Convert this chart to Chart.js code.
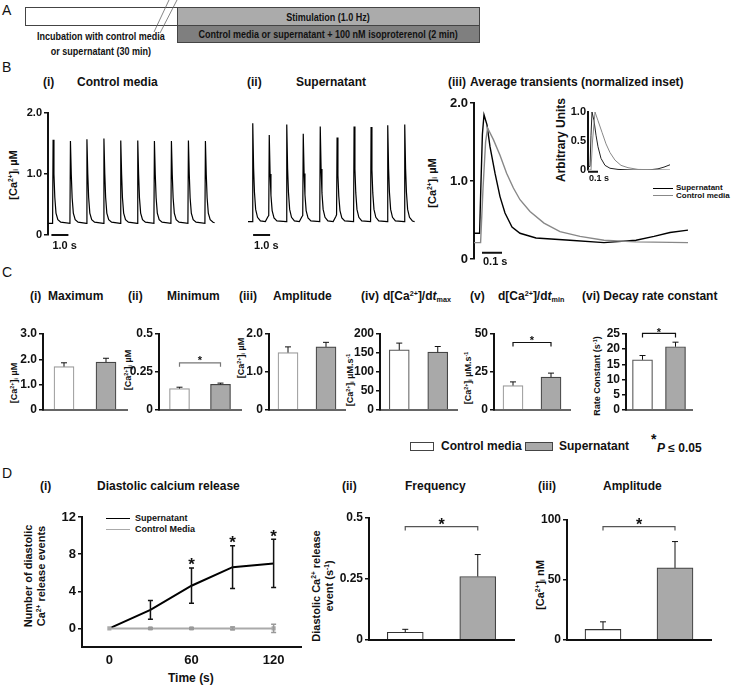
<!DOCTYPE html>
<html>
<head>
<meta charset="utf-8">
<title>Calcium handling figure</title>
<script src="https://cdn.jsdelivr.net/npm/chart.js@4.4.1/dist/chart.umd.min.js"></script>
<style>
  body { margin: 0; background: #fff; }
  #fig { position: relative; width: 734px; height: 686px; overflow: hidden;
         font-family: 'Liberation Sans', Arial, sans-serif; color: #111; }
  #fig canvas { position: absolute; }
  .t { position: absolute; white-space: nowrap; font-weight: bold; font-size: 12px;
       line-height: 1; transform: translateY(-50%); }
  .v { position: absolute; white-space: nowrap; font-weight: bold; text-align: center;
       line-height: 1.15; transform: translate(-50%, -50%) rotate(-90deg); }
  .letter { font-weight: normal; font-size: 14px; }
  sup { font-size: 0.6em; vertical-align: 0.6em; line-height: 0; }
  sub { font-size: 0.6em; vertical-align: -0.25em; line-height: 0; }
  .box { position: absolute; box-sizing: border-box; border: 1px solid #444;
         display: flex; align-items: center; justify-content: center;
         font-size: 11px; font-weight: bold; white-space: nowrap; }
  .cond { display: inline-block; transform: scaleX(0.82); white-space: nowrap; }
  .key { position: absolute; height: 0; }
</style>
</head>
<body>
<div id="fig">
  <!-- panel A: protocol schematic -->
  <div class="t letter" style="left:2px;top:10px">A</div>
  <div class="box" style="left:25px;top:7px;width:153px;height:19px;background:#fff"></div>
  <div class="box" style="left:177px;top:7px;width:303px;height:19px;background:#ababab"><span class="cond">Stimulation (1.0 Hz)</span></div>
  <div class="box" style="left:177px;top:25px;width:303px;height:18px;background:#7f7f7f"><span class="cond">Control media or supernatant + 100 nM isoproterenol (2 min)</span></div>
  <div style="position:absolute;left:-20px;top:29px;width:242px;text-align:center;font-size:11px;font-weight:bold;line-height:14.5px;white-space:nowrap">
    <span class="cond">Incubation with control media<br>or supernatant (30 min)</span>
  </div>
  <svg style="position:absolute;left:0;top:0" width="200" height="40">
    <line x1="154" y1="32" x2="169" y2="0" stroke="#666" stroke-width="0.8"/>
    <line x1="160" y1="33" x2="177" y2="0" stroke="#666" stroke-width="0.8"/>
  </svg>

  <!-- panel B labels -->
  <div class="t letter" style="left:2px;top:67px">B</div>
  <div class="t" style="left:43px;top:82px">(i)</div>
  <div class="t" style="left:77px;top:82px">Control media</div>
  <div class="t" style="left:247px;top:82px">(ii)</div>
  <div class="t" style="left:296px;top:82px">Supernatant</div>
  <div class="t" style="left:448px;top:82px">(iii)</div>
  <div class="t" style="left:470px;top:82px">Average transients (normalized inset)</div>
  <div class="v" style="left:13px;top:175px;font-size:11px">[Ca<sup>2+</sup>]<sub>i</sub> µM</div>
  <div class="v" style="left:432px;top:183px;font-size:11px">[Ca<sup>2+</sup>]<sub>i</sub> µM</div>
  <div class="v" style="left:562px;top:140px;font-size:12px">Arbitrary Units</div>
  <div class="key" style="left:653px;top:188px;width:20px;border-top:1.5px solid #000"></div>
  <div class="key" style="left:653px;top:195px;width:20px;border-top:1.5px solid #888"></div>
  <div class="t" style="left:676px;top:188px;font-size:8px">Supernatant</div>
  <div class="t" style="left:676px;top:196px;font-size:8px">Control media</div>

  <!-- panel C labels -->
  <div class="t letter" style="left:2px;top:272px">C</div>
  <div class="t" style="left:30px;top:296px">(i)</div>
  <div class="t" style="left:48px;top:296px">Maximum</div>
  <div class="t" style="left:128px;top:296px">(ii)</div>
  <div class="t" style="left:167px;top:296px">Minimum</div>
  <div class="t" style="left:239px;top:296px">(iii)</div>
  <div class="t" style="left:273px;top:296px">Amplitude</div>
  <div class="t" style="left:361px;top:296px">(iv)</div>
  <div class="t" style="left:383px;top:296px">d[Ca<sup>2+</sup>]/d<i>t</i><sub>max</sub></div>
  <div class="t" style="left:470px;top:296px">(v)</div>
  <div class="t" style="left:498px;top:296px">d[Ca<sup>2+</sup>]/d<i>t</i><sub>min</sub></div>
  <div class="t" style="left:582px;top:296px">(vi) Decay rate constant</div>
  <div class="v" style="left:14px;top:383px;font-size:9px">[Ca<sup>2+</sup>]<sub>i</sub> µM</div>
  <div class="v" style="left:128px;top:370px;font-size:9px">[Ca<sup>2+</sup>]<sub>i</sub> µM</div>
  <div class="v" style="left:241px;top:358px;font-size:9px">[Ca<sup>2+</sup>]<sub>i</sub> µM</div>
  <div class="v" style="left:350px;top:380px;font-size:9px">[Ca<sup>2+</sup>]<sub>i</sub> µM.s<sup>-1</sup></div>
  <div class="v" style="left:468px;top:378px;font-size:9px">[Ca<sup>2+</sup>]<sub>i</sub> µM.s<sup>-1</sup></div>
  <div class="v" style="left:597px;top:376px;font-size:9px">Rate Constant (s<sup>-1</sup>)</div>
  <div class="box" style="left:410px;top:442px;width:24px;height:9px;background:#fff"></div>
  <div class="t" style="left:441px;top:446px">Control media</div>
  <div class="box" style="left:525px;top:442px;width:28px;height:9px;background:#a9a9a9"></div>
  <div class="t" style="left:559px;top:446px">Supernatant</div>
  <div class="t" style="left:651px;top:439px;font-size:14px">*</div>
  <div class="t" style="left:657px;top:448px"><i>P</i> ≤ 0.05</div>

  <!-- panel D labels -->
  <div class="t letter" style="left:2px;top:473px">D</div>
  <div class="t" style="left:40px;top:486px">(i)</div>
  <div class="t" style="left:97px;top:486px">Diastolic calcium release</div>
  <div class="t" style="left:342px;top:486px">(ii)</div>
  <div class="t" style="left:405px;top:486px">Frequency</div>
  <div class="t" style="left:538px;top:486px">(iii)</div>
  <div class="t" style="left:603px;top:486px">Amplitude</div>
  <div class="v" style="left:35px;top:576px;font-size:11px">Number of diastolic<br>Ca<sup>2+</sup> release events</div>
  <div class="v" style="left:323px;top:586px;font-size:11px">Diastolic Ca<sup>2+</sup> release<br>event (s<sup>-1</sup>)</div>
  <div class="v" style="left:540px;top:585px;font-size:11px">[Ca<sup>2+</sup>]<sub>i</sub> nM</div>
  <div class="t" style="left:168px;top:678px;font-size:12px">Time (s)</div>
  <div class="key" style="left:106px;top:518px;width:24px;border-top:1.5px solid #000"></div>
  <div class="key" style="left:106px;top:529px;width:24px;border-top:1.5px solid #aaa"></div>
  <div class="t" style="left:135px;top:518px;font-size:9px">Supernatant</div>
  <div class="t" style="left:135px;top:529px;font-size:9px">Control Media</div>

  <canvas id="bCtrl"></canvas>
  <canvas id="bSup"></canvas>
  <canvas id="bAvg"></canvas>
  <canvas id="bInset"></canvas>
  <canvas id="cMax"></canvas>
  <canvas id="cMin"></canvas>
  <canvas id="cAmp"></canvas>
  <canvas id="cUp"></canvas>
  <canvas id="cDown"></canvas>
  <canvas id="cTau"></canvas>
  <canvas id="dEvents"></canvas>
  <canvas id="dFreq"></canvas>
  <canvas id="dAmp"></canvas>
</div>

<script>
// ---------- panel B(i): control media trace, time (s) / [Ca2+] (uM) ----------
const ctrlTraceT = [
  0, 0.27, 0.30, 0.35, 0.40, 0.47, 0.58, 0.75,
  1.29, 1.32, 1.37, 1.42, 1.49, 1.60, 1.77,
  2.26, 2.29, 2.34, 2.39, 2.46, 2.57, 2.74,
  3.26, 3.29, 3.34, 3.39, 3.46, 3.57, 3.74,
  4.25, 4.28, 4.33, 4.38, 4.45, 4.56, 4.73,
  5.25, 5.28, 5.33, 5.38, 5.45, 5.56, 5.73,
  6.23, 6.26, 6.31, 6.36, 6.43, 6.54, 6.71,
  7.23, 7.26, 7.31, 7.36, 7.43, 7.54, 7.71,
  8.23, 8.26, 8.31, 8.36, 8.43, 8.54, 8.71,
  9.23, 9.26, 9.31, 9.36, 9.43, 9.54, 9.71, 9.80
];
const ctrlTraceCa = [
  0.19, 0.19, 1.56, 1.00, 0.62, 0.36, 0.25, 0.21,
  0.19, 1.54, 0.99, 0.61, 0.36, 0.25, 0.21,
  0.19, 1.57, 1.01, 0.62, 0.36, 0.25, 0.21,
  0.19, 1.58, 1.01, 0.62, 0.36, 0.25, 0.21,
  0.19, 1.55, 1.00, 0.61, 0.36, 0.25, 0.21,
  0.19, 1.55, 1.00, 0.61, 0.36, 0.25, 0.21,
  0.19, 1.54, 0.99, 0.61, 0.36, 0.25, 0.21,
  0.19, 1.54, 0.99, 0.61, 0.36, 0.25, 0.21,
  0.19, 1.55, 1.00, 0.61, 0.36, 0.25, 0.21,
  0.19, 1.54, 0.99, 0.61, 0.36, 0.25, 0.21, 0.20
];

// ---------- panel B(ii): supernatant trace ----------
const supTraceT = [
  0, 0.25, 0.28, 0.33, 0.38, 0.45, 0.56, 0.73,
  1.02, 1.17, 1.22, 1.25, 1.30, 1.35, 1.42, 1.53, 1.70,
  2.25, 2.28, 2.33, 2.38, 2.45, 2.56, 2.73,
  3.02, 3.17, 3.22, 3.25, 3.30, 3.35, 3.42, 3.53, 3.70,
  4.22, 4.25, 4.30, 4.35, 4.42, 4.53, 4.70,
  5.01, 5.16, 5.21, 5.24, 5.29, 5.34, 5.41, 5.52, 5.69,
  6.21, 6.24, 6.29, 6.34, 6.41, 6.52, 6.69,
  7.21, 7.24, 7.29, 7.34, 7.41, 7.52, 7.69,
  8.19, 8.22, 8.27, 8.32, 8.39, 8.50, 8.67,
  9.19, 9.22, 9.27, 9.32, 9.39, 9.50, 9.67, 9.80
];
const supTraceCa = [
  0.22, 0.22, 1.83, 1.10, 0.70, 0.42, 0.29, 0.23,
  0.22, 0.30, 0.32, 1.64, 1.00, 0.65, 0.40, 0.28, 0.23,
  0.22, 1.81, 1.09, 0.70, 0.42, 0.29, 0.23,
  0.22, 0.30, 0.32, 1.66, 1.01, 0.66, 0.40, 0.28, 0.23,
  0.22, 1.78, 1.08, 0.69, 0.42, 0.29, 0.23,
  0.22, 0.30, 0.33, 1.60, 0.98, 0.64, 0.40, 0.28, 0.23,
  0.22, 1.78, 1.08, 0.69, 0.42, 0.29, 0.23,
  0.22, 1.77, 1.07, 0.69, 0.42, 0.29, 0.23,
  0.22, 1.80, 1.09, 0.70, 0.42, 0.29, 0.23,
  0.22, 1.81, 1.09, 0.70, 0.42, 0.29, 0.23, 0.22
];

// ---------- panel B(iii): averaged transients ----------
const avgSupT  = [0, 0.028, 0.034, 0.042, 0.05, 0.065, 0.08, 0.105, 0.13, 0.155, 0.19, 0.23, 0.31, 0.48, 0.65, 0.81, 0.90, 0.98, 1.07];
const avgSupCa = [0.33, 0.33, 0.9, 1.6, 1.85, 1.72, 1.44, 1.10, 0.80, 0.59, 0.41, 0.33, 0.27, 0.24, 0.21, 0.24, 0.29, 0.34, 0.37];
const avgCtrlT  = [0, 0.033, 0.045, 0.058, 0.068, 0.097, 0.13, 0.163, 0.197, 0.23, 0.28, 0.35, 0.43, 0.53, 0.65, 0.81, 1.07];
const avgCtrlCa = [0.21, 0.21, 0.9, 1.5, 1.68, 1.53, 1.33, 1.10, 0.91, 0.76, 0.61, 0.46, 0.35, 0.29, 0.24, 0.22, 0.21];
// normalized inset (arbitrary units)
const insetSupT = [0, 0.02, 0.03, 0.04, 0.06, 0.08, 0.10, 0.13, 0.17, 0.22, 0.30, 0.45, 0.60, 0.70, 0.76, 0.82];
const insetSupY = [0.06, 0.06, 0.6, 1.0, 0.85, 0.6, 0.4, 0.2, 0.08, 0.03, 0.01, 0, 0, 0.02, 0.05, 0.09];
const insetCtrlT = [0, 0.03, 0.045, 0.07, 0.10, 0.14, 0.18, 0.22, 0.27, 0.33, 0.40, 0.50, 0.82];
const insetCtrlY = [0, 0, 0.5, 1.0, 0.85, 0.65, 0.45, 0.3, 0.17, 0.08, 0.04, 0.01, 0];

// ---------- panel C: mean and SEM per group ----------
const groupLabels = ['Control media', 'Supernatant'];
const maxMean = [1.71, 1.89],  maxSem = [0.15, 0.15];
const minMean = [0.14, 0.168], minSem = [0.009, 0.008];
const ampMean = [1.51, 1.66],  ampSem = [0.15, 0.12];
const upMean = [158, 152],     upSem = [18, 15];
const downMean = [16, 21.6],   downSem = [2.4, 2.6];
const tauMean = [16.5, 20.8],  tauSem = [1.4, 1.5];

// ---------- panel D ----------
const timePoints = [0, 30, 60, 90, 120];
const supEvents = [0, 2.0, 4.6, 6.6, 7.0];
const supEventsErr = [0, 1.0, 1.9, 2.3, 2.6];
const ctrlEvents = [0, 0, 0, 0, 0];
const ctrlEventsErr = [0, 0.08, 0.08, 0.15, 0.45];
const starTimes = [60, 90, 120];
const starLevels = [7.3, 9.7, 10.4];
const freqMean = [0.031, 0.26], freqSem = [0.012, 0.09];
const relAmpMean = [8.7, 60],   relAmpSem = [6.3, 22];

// ---------- tick values and labels ----------
const traceTicks = [0, 1, 2],           traceTickLabels = ['0', '1.0', '2.0'];
const insetTicks = [0, 0.5, 1],         insetTickLabels = ['0', '0.5', '1.0'];
const maxTicks = [0, 1, 2, 3],          maxTickLabels = ['0', '1.0', '2.0', '3.0'];
const minTicks = [0, 0.25, 0.5],        minTickLabels = ['0', '0.25', '0.5'];
const ampTicks = [0, 1, 2],             ampTickLabels = ['0', '1.0', '2.0'];
const upTicks = [0, 50, 100, 150, 200], upTickLabels = ['0', '50', '100', '150', '200'];
const downTicks = [0, 25, 50],          downTickLabels = ['0', '25', '50'];
const tauTicks = [0, 5, 10, 15, 20, 25], tauTickLabels = ['0', '5', '10', '15', '20', '25'];
const eventTicks = [0, 4, 8, 12],       eventTickLabels = ['0', '4', '8', '12'];
const timeTicks = [0, 60, 120],         timeTickLabels = ['0', '60', '120'];
const freqTicks = [0, 0.25, 0.5],       freqTickLabels = ['0', '0.25', '0.5'];
const relAmpTicks = [0, 50, 100],       relAmpTickLabels = ['0', '50', '100'];

const FONT = "'Liberation Sans', Arial, sans-serif";
const INK = '#111';
const GREY_BAR = '#a9a9a9';
const PAD_T = 12, PAD_R = 4;

Chart.defaults.font.family = FONT;
Chart.defaults.animation = false;
Chart.defaults.plugins.legend.display = false;
Chart.defaults.plugins.tooltip.enabled = false;

// size and place a canvas so that its plot area lands on the given box
function frame(id, g) {
    const c = document.getElementById(id);
    c.width = g.yW + (g.x1 - g.x0) + PAD_R;
    c.height = PAD_T + (g.yBot - g.yTop) + g.xH;
    c.style.left = (g.x0 - g.yW) + 'px';
    c.style.top = (g.yTop - PAD_T) + 'px';
    return c;
}

function pairs(xs, ys) {
    return xs.map((x, i) => ({ x: x, y: ys[i] }));
}

function valueAxis(g, min, max, vals, labels, size, show, tick) {
    return {
        display: show !== false,
        min: min, max: max,
        border: { display: true, color: INK, width: 2 },
        grid: { drawOnChartArea: false, drawTicks: true, tickLength: tick || 4, color: INK, lineWidth: 1.5 },
        ticks: { autoSkip: false, padding: tick ? 1 : 2, color: INK, font: { size: size || 12, weight: 'bold' },
                 callback: (v, i) => labels[i] },
        afterBuildTicks: s => { s.ticks = vals.map(v => ({ value: v })); },
        afterFit: s => { s.width = g.yW; }
    };
}

// error bars, significance brackets, stars and time scale bars
function marks(spec) {
    return {
        id: 'marks',
        afterDatasetsDraw(chart) {
            const ctx = chart.ctx, xs = chart.scales.x, ys = chart.scales.y;
            ctx.save();
            chart.data.datasets.forEach((ds, di) => {
                if (!ds.errorBars) return;
                const pts = chart.getDatasetMeta(di).data;
                ctx.strokeStyle = ds.errorColor || INK;
                ctx.lineWidth = ds.errorWidth || 1;
                pts.forEach((el, i) => {
                    const err = ds.errorBars[i];
                    if (!err) return;
                    const v = typeof ds.data[i] === 'number' ? ds.data[i] : ds.data[i].y;
                    const cap = ds.errorCap || 3;
                    const top = ys.getPixelForValue(v + err);
                    const bot = ds.errorBoth ? ys.getPixelForValue(v - err) : el.y;
                    ctx.beginPath();
                    ctx.moveTo(el.x, bot); ctx.lineTo(el.x, top);
                    ctx.moveTo(el.x - cap, top); ctx.lineTo(el.x + cap, top);
                    if (ds.errorBoth) { ctx.moveTo(el.x - cap, bot); ctx.lineTo(el.x + cap, bot); }
                    ctx.stroke();
                });
            });
            if (spec.bracket) {
                const b = spec.bracket, pts = chart.getDatasetMeta(0).data;
                const y = ys.getPixelForValue(b.level);
                const xa = pts[0].x, xb = pts[1].x;
                ctx.strokeStyle = b.color || INK;
                ctx.lineWidth = 1.2;
                ctx.beginPath();
                ctx.moveTo(xa, y + b.drop); ctx.lineTo(xa, y); ctx.lineTo(xb, y); ctx.lineTo(xb, y + b.drop);
                ctx.stroke();
                ctx.fillStyle = INK;
                ctx.font = 'bold ' + b.size + 'px ' + FONT;
                ctx.textAlign = 'center';
                ctx.textBaseline = 'alphabetic';
                ctx.fillText('*', (xa + xb) / 2, y - b.gap + b.size * 0.57);
            }
            if (spec.stars) {
                ctx.fillStyle = INK;
                ctx.font = 'bold ' + spec.stars.size + 'px ' + FONT;
                ctx.textAlign = 'center';
                ctx.textBaseline = 'alphabetic';
                spec.stars.at.forEach((t, i) => {
                    ctx.fillText('*', xs.getPixelForValue(t), ys.getPixelForValue(spec.stars.level[i]) + spec.stars.size * 0.57);
                });
            }
            if (spec.scaleBar) {
                const s = spec.scaleBar;
                const x0 = xs.getPixelForValue(s.from), x1 = xs.getPixelForValue(s.to);
                const y = ys.getPixelForValue(s.level);
                ctx.strokeStyle = INK;
                ctx.lineWidth = 2;
                ctx.beginPath(); ctx.moveTo(x0, y); ctx.lineTo(x1, y); ctx.stroke();
                ctx.fillStyle = INK;
                ctx.font = 'bold ' + s.size + 'px ' + FONT;
                ctx.textAlign = 'left';
                ctx.textBaseline = 'top';
                ctx.fillText(s.label, x0 + 1, y + s.dy);
            }
            ctx.restore();
        }
    };
}

function tracePanel(id, g, datasets, xMax, yAxis, spec) {
    new Chart(frame(id, g), {
        type: 'line',
        data: { datasets: datasets },
        options: {
            responsive: false, devicePixelRatio: 1,
            layout: { padding: { top: PAD_T, right: PAD_R, bottom: g.xH, left: yAxis.display ? 0 : g.yW } },
            elements: { point: { radius: 0 }, line: { tension: 0 } },
            scales: { x: { type: 'linear', display: false, min: 0, max: xMax }, y: yAxis }
        },
        plugins: [marks(spec)]
    });
}

function trace(xs, ys, color, width) {
    return { data: pairs(xs, ys), borderColor: color, borderWidth: width, fill: false };
}

function barPanel(id, g, means, sems, ticks, labels, spec) {
    new Chart(frame(id, g), {
        type: 'bar',
        data: {
            labels: groupLabels,
            datasets: [{
                data: means, errorBars: sems, errorCap: g.cap,
                backgroundColor: ['#ffffff', GREY_BAR],
                borderColor: [g.edge || '#555', '#444'],
                borderWidth: 1.2, barThickness: g.bar
            }]
        },
        options: {
            responsive: false, devicePixelRatio: 1,
            layout: { padding: { top: PAD_T, right: PAD_R, bottom: 0, left: 0 } },
            scales: {
                x: { border: { display: true, color: g.axis || INK, width: 2 },
                     grid: { display: false, drawTicks: false }, ticks: { display: false },
                     afterFit: s => { s.height = g.xH; } },
                y: valueAxis(g, ticks[0], ticks[ticks.length - 1], ticks, labels, 12)
            }
        },
        plugins: [marks(spec || {})]
    });
}

// ----- B -----
tracePanel('bCtrl', { x0: 48, x1: 218, yTop: 113, yBot: 235, yW: 40, xH: 22 },
    [trace(ctrlTraceT, ctrlTraceCa, '#000', 1.2)], 10,
    valueAxis({ yW: 40 }, 0, 2, traceTicks, traceTickLabels, 11),
    { scaleBar: { from: 0.2, to: 1.2, level: 0, label: '1.0 s', size: 11, dy: 5 } });

tracePanel('bSup', { x0: 248, x1: 418, yTop: 113, yBot: 235, yW: 0, xH: 22 },
    [trace(supTraceT, supTraceCa, '#000', 1.2)], 10,
    valueAxis({ yW: 0 }, 0, 2, traceTicks, traceTickLabels, 11, false),
    { scaleBar: { from: 0.3, to: 1.3, level: 0, label: '1.0 s', size: 11, dy: 5 } });

tracePanel('bAvg', { x0: 474, x1: 688, yTop: 103, yBot: 259, yW: 30, xH: 20 },
    [trace(avgCtrlT, avgCtrlCa, '#888', 1.4), trace(avgSupT, avgSupCa, '#000', 1.4)], 1.07,
    valueAxis({ yW: 30 }, 0, 2, traceTicks, traceTickLabels, 13),
    { scaleBar: { from: 0.04, to: 0.14, level: 0.08, label: '0.1 s', size: 11, dy: 4 } });

tracePanel('bInset', { x0: 588, x1: 670, yTop: 112, yBot: 170, yW: 20, xH: 16 },
    [trace(insetCtrlT, insetCtrlY, '#888', 1), trace(insetSupT, insetSupY, '#222', 1)], 0.82,
    valueAxis({ yW: 20 }, 0, 1, insetTicks, insetTickLabels, 11, true, 1),
    { scaleBar: { from: 0, to: 0.1, level: -0.03, label: '0.1 s', size: 9, dy: 2 } });

// ----- C -----
const cBox = { yTop: 334, yBot: 417, xH: 2, bar: 20, cap: 3, axis: '#666' };
barPanel('cMax', Object.assign({ x0: 43, x1: 127, yW: 30, edge: '#999' }, cBox), maxMean, maxSem, maxTicks, maxTickLabels);
barPanel('cMin', Object.assign({ x0: 159, x1: 241, yW: 32, edge: '#999' }, cBox), minMean, minSem, minTicks, minTickLabels,
    { bracket: { level: 0.31, drop: 4, gap: 5, size: 11, color: '#777' } });
barPanel('cAmp', Object.assign({ x0: 269, x1: 345, yW: 26, edge: '#999' }, cBox), ampMean, ampSem, ampTicks, ampTickLabels);
barPanel('cUp', Object.assign({ x0: 380, x1: 457, yW: 26 }, cBox), upMean, upSem, upTicks, upTickLabels);
barPanel('cDown', Object.assign({ x0: 494, x1: 570, yW: 22, edge: '#999' }, cBox), downMean, downSem, downTicks, downTickLabels,
    { bracket: { level: 44.4, drop: 4, gap: 5, size: 11 } });
barPanel('cTau', Object.assign({ x0: 626, x1: 692, yW: 22 }, cBox), tauMean, tauSem, tauTicks, tauTickLabels,
    { bracket: { level: 25.2, drop: 4, gap: 4, size: 11 } });

// ----- D(i): diastolic events over time -----
(function () {
    const g = { x0: 82, x1: 303, yTop: 517, yBot: 647, yW: 30, xH: 22 };
    new Chart(frame('dEvents', g), {
        type: 'line',
        data: {
            datasets: [
                { data: pairs(timePoints, ctrlEvents), errorBars: ctrlEventsErr, errorBoth: true, errorColor: '#999',
                  errorCap: 2.5, errorWidth: 1.5, borderColor: '#aaa', backgroundColor: '#aaa', borderWidth: 2,
                  pointRadius: 1.5, pointStyle: 'rect' },
                { data: pairs(timePoints, supEvents), errorBars: supEventsErr, errorBoth: true, errorColor: '#111',
                  errorCap: 2.5, errorWidth: 1.5, borderColor: '#000', backgroundColor: '#000', borderWidth: 2,
                  pointRadius: 0 }
            ]
        },
        options: {
            responsive: false, devicePixelRatio: 1,
            layout: { padding: { top: PAD_T, right: PAD_R, bottom: 0, left: 0 } },
            elements: { line: { tension: 0 } },
            scales: {
                x: { type: 'linear', min: -20, max: 140,
                     border: { display: true, color: INK, width: 2 },
                     grid: { display: false, drawTicks: false },
                     ticks: { autoSkip: false, padding: 6, color: INK, font: { size: 13, weight: 'bold' },
                              callback: (v, i) => timeTickLabels[i] },
                     afterBuildTicks: s => { s.ticks = timeTicks.map(v => ({ value: v })); },
                     afterFit: s => { s.height = g.xH; } },
                y: valueAxis(g, -2, 12, eventTicks, eventTickLabels, 13)
            }
        },
        plugins: [marks({ stars: { at: starTimes, level: starLevels, size: 17 } })]
    });
})();

// ----- D(ii), D(iii) -----
barPanel('dFreq', { x0: 369, x1: 514, yTop: 518, yBot: 647, yW: 40, xH: 2, bar: 36, cap: 3, edge: '#333' },
    freqMean, freqSem, freqTicks, freqTickLabels,
    { bracket: { level: 0.465, drop: 4, gap: 6, size: 16, color: '#555' } });
barPanel('dAmp', { x0: 567, x1: 711, yTop: 520, yBot: 647, yW: 30, xH: 2, bar: 36, cap: 3, edge: '#333' },
    relAmpMean, relAmpSem, relAmpTicks, relAmpTickLabels,
    { bracket: { level: 94.5, drop: 4, gap: 6, size: 16, color: '#555' } });
</script>
</body>
</html>
